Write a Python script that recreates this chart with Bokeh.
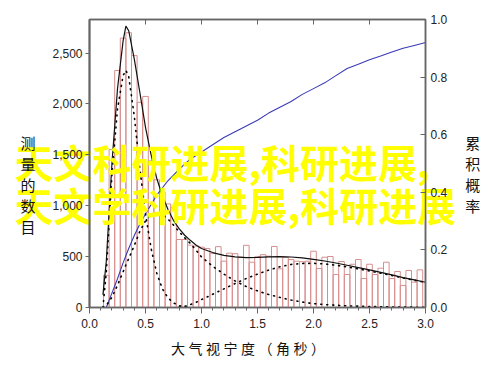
from bokeh.plotting import figure
from bokeh.models import Range1d, LinearAxis, FixedTicker, NumeralTickFormatter
from bokeh.embed import file_html
from bokeh.resources import INLINE

# ---------------- data ----------------
bin_centers = [0.15, 0.20, 0.25, 0.30, 0.35, 0.40, 0.45, 0.50, 0.55, 0.60,
               0.65, 0.70, 0.75, 0.80, 0.85, 0.90, 0.95, 1.00, 1.05, 1.10,
               1.15, 1.20, 1.25, 1.30, 1.35, 1.40, 1.45, 1.50, 1.55, 1.60,
               1.65, 1.70, 1.75, 1.80, 1.85, 1.90, 1.95, 2.00, 2.05, 2.10,
               2.15, 2.20, 2.25, 2.30, 2.35, 2.40, 2.45, 2.50, 2.55, 2.60,
               2.65, 2.70, 2.75, 2.80, 2.85, 2.90, 2.95]
bin_counts = [316, 1552, 2329, 2647, 2700, 2475, 2016, 2074, 1440, 1255,
              1135, 1018, 983, 668, 668, 613, 603, 593, 580, 533,
              598, 455, 534, 529, 494, 611, 445, 499, 519, 504,
              600, 380, 494, 471, 455, 450, 455, 553, 383, 494,
              501, 324, 452, 324, 425, 471, 285, 425, 324, 386,
              445, 285, 354, 217, 364, 249, 370]
bin_width = 0.05

total_x = [0.12, 0.15, 0.2, 0.25, 0.3, 0.325, 0.35, 0.4, 0.45, 0.5, 0.55, 0.6, 0.65,
           0.7, 0.75, 0.8, 0.85, 0.9, 0.95, 1.0, 1.1, 1.2, 1.3, 1.4, 1.5, 1.6, 1.7,
           1.8, 1.9, 2.0, 2.1, 2.2, 2.3, 2.4, 2.5, 2.6, 2.7, 2.8, 2.9, 3.0]
total_y = [125, 455, 1410, 2150, 2620, 2765, 2720, 2440, 2110, 1770, 1500, 1270, 1100,
           965, 855, 775, 710, 660, 615, 580, 540, 513, 498, 490, 492, 497, 500,
           496, 487, 472, 457, 437, 415, 392, 369, 345, 320, 294, 271, 248]

compA_x = [0.12, 0.15, 0.2, 0.25, 0.3, 0.325, 0.35, 0.4, 0.45, 0.5, 0.55, 0.6, 0.65,
           0.7, 0.75, 0.8, 0.85, 0.9]
compA_y = [0, 350, 1300, 1950, 2280, 2330, 2270, 1880, 1360, 920, 580, 340, 185,
           95, 45, 18, 6, 0]

compB_x = [0.12, 0.15, 0.2, 0.25, 0.3, 0.325, 0.35, 0.4, 0.45, 0.5, 0.55, 0.6, 0.65,
           0.7, 0.75, 0.8, 0.85, 0.9, 0.95, 1.0, 1.1, 1.2, 1.3, 1.4, 1.5, 1.6, 1.7,
           1.8, 1.9, 2.0, 2.1, 2.2, 2.3, 2.4, 2.5, 2.6, 2.7, 2.8, 2.9, 3.0]
compB_y = [0, 20, 100, 220, 350, 420, 480, 610, 750, 850, 910, 930, 915,
           870, 810, 745, 685, 630, 565, 497, 405, 328, 261, 205, 163, 128, 99,
           73, 54, 38, 29, 22, 16, 13, 10, 7, 5, 4, 3, 2]

compC_x = [0.8, 0.85, 0.9, 0.95, 1.0, 1.1, 1.2, 1.3, 1.4, 1.5, 1.6, 1.7, 1.8, 1.9,
           2.0, 2.1, 2.2, 2.3, 2.4, 2.5, 2.6, 2.7, 2.8, 2.9, 3.0]
compC_y = [5, 12, 28, 50, 78, 130, 183, 235, 285, 328, 368, 400, 423, 433,
           434, 428, 415, 399, 379, 359, 337, 314, 290, 268, 246]

cum_x = [0.15, 0.2, 0.25, 0.3, 0.35, 0.4, 0.45, 0.5, 0.6, 0.7, 0.8, 0.9, 1.0, 1.1,
         1.2, 1.3, 1.4, 1.5, 1.6, 1.7, 1.8, 1.9, 2.0, 2.1, 2.2, 2.3, 2.4, 2.5, 2.6,
         2.7, 2.8, 2.9, 3.0]
cum_y = [0.0, 0.05, 0.10, 0.155, 0.205, 0.25, 0.29, 0.325, 0.39, 0.44, 0.48, 0.515,
         0.54, 0.565, 0.59, 0.61, 0.63, 0.65, 0.675, 0.695, 0.715, 0.74, 0.76, 0.78,
         0.805, 0.83, 0.845, 0.86, 0.873, 0.887, 0.90, 0.91, 0.92]

x_major = [0.0, 0.5, 1.0, 1.5, 2.0, 2.5, 3.0]
x_minor = [0.1, 0.2, 0.3, 0.4, 0.6, 0.7, 0.8, 0.9, 1.1, 1.2, 1.3, 1.4, 1.6, 1.7,
           1.8, 1.9, 2.1, 2.2, 2.3, 2.4, 2.6, 2.7, 2.8, 2.9]
y_left_ticks = [0, 500, 1000, 1500, 2000, 2500]
y_right_ticks = [0.0, 0.2, 0.4, 0.6, 0.8, 1.0]

NB = "\u00a0"
QS = "\u2005"
x_label_chars = ["大", "气", "视", "宁", "度", "（", "角", "秒", "）"]
left_label_chars = ["测", "量", "的", "数", "目"]
right_label_chars = ["累", "积", "概", "率"]
watermark_lines = ["天文科研进展,科研进展,", "天文学科研进展,科研进展"]

# ---------------- figure ----------------
p = figure(width=500, height=369, x_range=Range1d(0, 3.0), y_range=Range1d(0, 2830),
           output_backend="svg", toolbar_location=None,
           min_border_left=89, min_border_right=75, min_border_top=19, min_border_bottom=62)
p.extra_y_ranges = {"cum": Range1d(0, 1.0)}
p.grid.visible = False
p.outline_line_color = "#666666"
p.outline_line_width = 1.5
p.background_fill_color = "white"
p.border_fill_color = "white"

tick_font = "Liberation Sans"
tick_size = "12px"
axis_col = "#666666"
lab_font = "Noto Sans CJK SC"

xa = p.xaxis[0]
xa.ticker = FixedTicker(ticks=x_major, minor_ticks=x_minor)
xa.formatter = NumeralTickFormatter(format="0.0")
xa.major_tick_out = 6
xa.major_tick_in = 0
xa.minor_tick_out = 3
xa.minor_tick_in = 0
xa.major_label_standoff = 5
xa.axis_line_color = axis_col
xa.axis_line_width = 1.5
xa.major_tick_line_color = axis_col
xa.minor_tick_line_color = axis_col
xa.major_label_text_font = tick_font
xa.major_label_text_font_size = tick_size
xa.major_label_text_color = "#222222"
xa.axis_label = QS.join(x_label_chars) + NB * 6
xa.axis_label_text_font = lab_font
xa.axis_label_text_font_size = "14px"
xa.axis_label_text_font_style = "normal"
xa.axis_label_text_color = "#111111"
xa.axis_label_standoff = 7

ya = p.yaxis[0]
ya.ticker = FixedTicker(ticks=y_left_ticks, minor_ticks=[])
ya.formatter = NumeralTickFormatter(format="0,0")
ya.major_tick_out = 4
ya.major_tick_in = 0
ya.minor_tick_out = 0
ya.minor_tick_in = 0
ya.major_label_standoff = 3
ya.axis_line_color = axis_col
ya.axis_line_width = 2
ya.major_tick_line_color = axis_col
ya.major_label_text_font = tick_font
ya.major_label_text_font_size = tick_size
ya.major_label_text_color = "#222222"
ya.axis_label = "\n".join([NB, NB] + left_label_chars)
ya.axis_label_orientation = "horizontal"
ya.axis_label_text_font = lab_font
ya.axis_label_text_font_size = "15px"
ya.axis_label_text_font_style = "normal"
ya.axis_label_text_color = "#111111"
ya.axis_label_text_line_height = 1.0
ya.axis_label_standoff = 14

ra = LinearAxis(y_range_name="cum", ticker=FixedTicker(ticks=y_right_ticks, minor_ticks=[]),
                formatter=NumeralTickFormatter(format="0.0"))
ra.major_tick_in = 5
ra.major_tick_out = 0
ra.minor_tick_in = 0
ra.minor_tick_out = 0
ra.major_label_standoff = 5
ra.axis_line_color = axis_col
ra.axis_line_width = 1.5
ra.major_tick_line_color = axis_col
ra.major_label_text_font = tick_font
ra.major_label_text_font_size = tick_size
ra.major_label_text_color = "#222222"
ra.axis_label = "\n".join([NB] + right_label_chars)
ra.axis_label_orientation = "horizontal"
ra.axis_label_text_font = lab_font
ra.axis_label_text_font_size = "15px"
ra.axis_label_text_font_style = "normal"
ra.axis_label_text_color = "#111111"
ra.axis_label_text_line_height = 1.0
ra.axis_label_standoff = 15
p.add_layout(ra, "right")

# top frame edge: inward tick marks only (no labels)
ta = LinearAxis(ticker=FixedTicker(ticks=[], minor_ticks=x_major))
ta.major_tick_in = 0
ta.major_tick_out = 0
ta.minor_tick_in = 5
ta.minor_tick_out = 0
ta.axis_line_color = axis_col
ta.axis_line_width = 1.5
ta.minor_tick_line_color = axis_col
p.add_layout(ta, "above")


def watermark_axis(text, standoff):
    ax = LinearAxis(ticker=FixedTicker(ticks=[], minor_ticks=[]))
    ax.axis_line_color = None
    ax.major_tick_line_color = None
    ax.minor_tick_line_color = None
    ax.major_tick_in = 0
    ax.major_tick_out = 0
    ax.minor_tick_in = 0
    ax.minor_tick_out = 0
    ax.major_label_standoff = 0
    ax.axis_label = text
    ax.axis_label_text_font = lab_font
    ax.axis_label_text_font_size = "39px"
    ax.axis_label_text_font_style = "bold"
    ax.axis_label_text_color = "#ffff00"
    ax.axis_label_standoff = standoff
    return ax


p.add_layout(watermark_axis(watermark_lines[0] + NB * 8, -169), "above")
p.add_layout(watermark_axis(watermark_lines[1] + NB * 5, -185), "below")

# ---------------- glyphs ----------------
p.vbar(x=bin_centers, top=bin_counts, bottom=0, width=bin_width,
       fill_color="white", fill_alpha=0.0, line_color="#d88e8e", line_width=1)

p.line(cum_x, cum_y, y_range_name="cum", line_color="#3a3ab8", line_width=1.1)

p.line(compA_x, compA_y, line_color="black", line_width=1.6, line_dash="1 5", line_cap="round")
p.line(compB_x, compB_y, line_color="black", line_width=1.6, line_dash="1 5", line_cap="round")
p.line(compC_x, compC_y, line_color="black", line_width=1.6, line_dash="1 5", line_cap="round")
p.line(total_x, total_y, line_color="#111111", line_width=1.2)

open("out.html", "w").write(file_html(p, INLINE))
